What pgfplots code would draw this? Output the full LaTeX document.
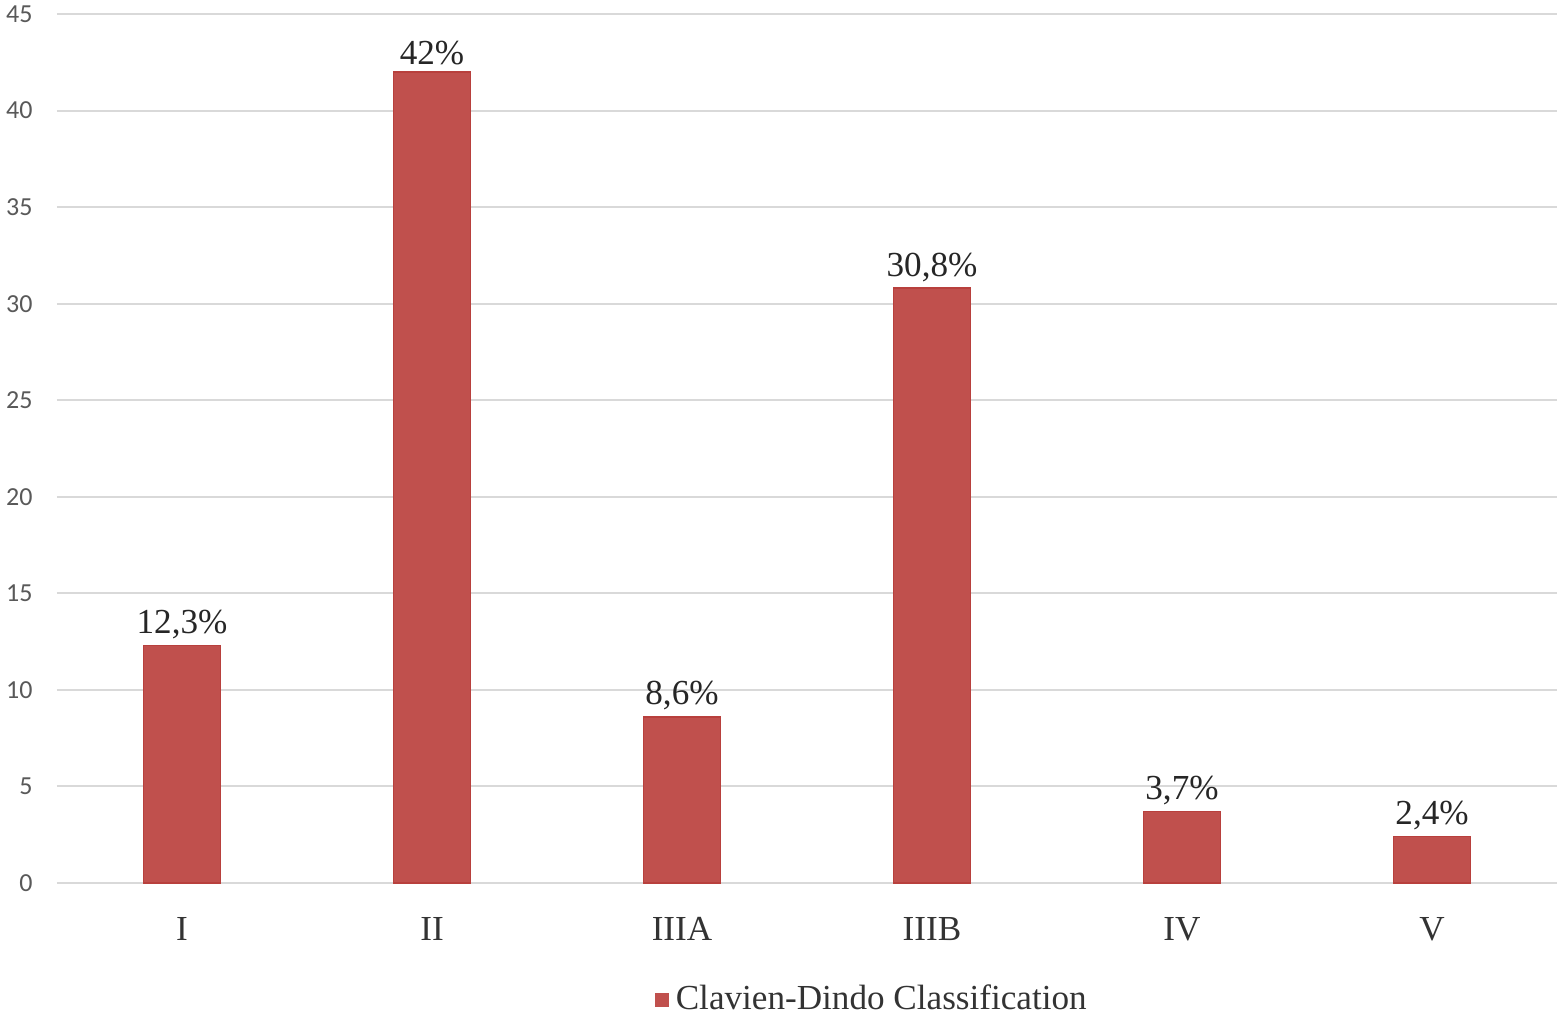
\documentclass[border=0pt]{standalone}
\usepackage{pgfplots}
\pgfplotsset{compat=1.18}
\usepackage{fontspec}
\setmainfont{Liberation Serif}
\newfontfamily\tickfont{Carlito}
\definecolor{barred}{HTML}{C0504D}
\definecolor{baredge}{HTML}{B8403D}
\definecolor{gridgray}{HTML}{D9D9D9}
\definecolor{ticktext}{HTML}{595959}
\begin{document}
\begin{tikzpicture}[x=1mm,y=1mm]
\useasboundingbox (0,0) rectangle (156,102.2);
\begin{axis}[
  at={(5.7mm,13.9mm)}, anchor=south west,
  scale only axis, width=150mm, height=86.9mm,
  xmin=-0.5, xmax=5.5, ymin=0, ymax=45,
  xtick={0,1,2,3,4,5},
  xticklabels={I,II,IIIA,IIIB,IV,V},
  ytick={0,5,...,45},
  axis line style={draw=none},
  major tick length=0pt,
  ymajorgrids,
  grid style={gridgray, line width=0.2mm},
  yticklabel style={font=\tickfont\fontsize{7.4}{8}\selectfont, text=ticktext, xshift=-1.2mm},
  /pgf/number format/assume math mode=true,
  xticklabel style={font=\fontsize{10}{12}\selectfont, text=black!80, yshift=-2.2mm},
  ybar, bar width=7.7mm,
  nodes near coords,
  point meta=explicit symbolic,
  every node near coord/.append style={font=\fontsize{10}{12}\selectfont, text=black!85, inner sep=0.6mm},
  legend style={at={(0.545,-0.1346)}, anchor=center, draw=none, fill=none,
    font=\fontsize{10}{12}\selectfont, text=black!80, inner sep=0pt,
    /tikz/every even column/.append style={column sep=0pt}},
  legend image code/.code={\fill[barred] (0mm,-0.6mm) rectangle (1.2mm,0.6mm);},
]
\addplot[fill=barred, draw=baredge, line width=0.15mm] coordinates {
  (0,12.3) [12,3\%]
  (1,42) [42\%]
  (2,8.6) [8,6\%]
  (3,30.8) [30,8\%]
  (4,3.7) [3,7\%]
  (5,2.4) [2,4\%]
};
\addlegendentry{Clavien-Dindo Classification}
\end{axis}
\end{tikzpicture}
\end{document}
